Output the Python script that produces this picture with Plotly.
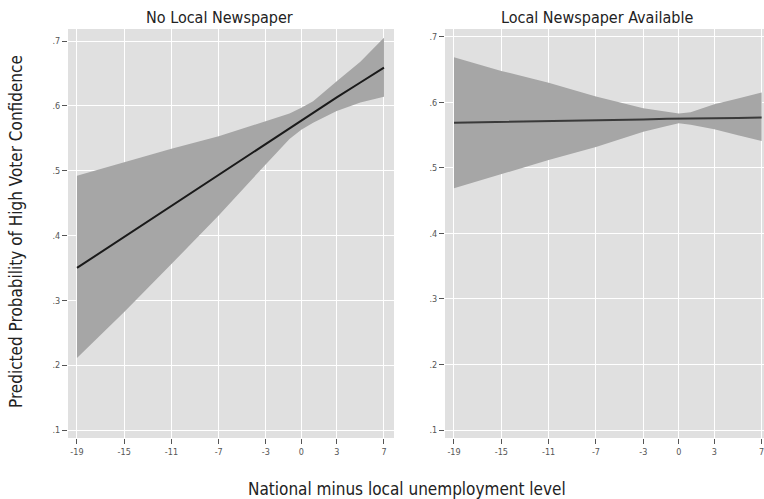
import plotly.graph_objects as go

# ---- data ----
x_vals = [-19, -15, -11, -7, -3, -1, 0, 1, 3, 5, 7]

no_paper_fit = [0.350, 0.398, 0.445, 0.493, 0.541, 0.565, 0.578, 0.590, 0.613, 0.636, 0.659]
no_paper_upper = [0.492, 0.513, 0.534, 0.553, 0.576, 0.588, 0.597, 0.607, 0.638, 0.668, 0.705]
no_paper_lower = [0.211, 0.282, 0.356, 0.431, 0.510, 0.549, 0.563, 0.574, 0.592, 0.605, 0.614]

paper_fit = [0.569, 0.570, 0.571, 0.572, 0.574, 0.575, 0.575, 0.575, 0.576, 0.576, 0.577]
paper_upper = [0.669, 0.648, 0.630, 0.609, 0.591, 0.585, 0.583, 0.585, 0.597, 0.606, 0.615]
paper_lower = [0.469, 0.491, 0.512, 0.532, 0.555, 0.564, 0.568, 0.566, 0.559, 0.550, 0.541]

x_ticks = [-19, -15, -11, -7, -3, 0, 3, 7]
x_ticktext = ["-19", "-15", "-11", "-7", "-3", "0", "3", "7"]
y_ticks = [0.1, 0.2, 0.3, 0.4, 0.5, 0.6, 0.7]
y_ticktext = [".1", ".2", ".3", ".4", ".5", ".6", ".7"]

panel_titles = ["No Local Newspaper", "Local Newspaper Available"]
x_title = "National minus local unemployment level"
y_title = "Predicted Probability of High Voter Confidence"

# ---- style ----
FONT = "DejaVu Sans Condensed, Liberation Sans Narrow, Roboto, sans-serif"
BG = "#E0E0E0"
BAND = "#A6A6A6"
W, H = 764, 499

fig = go.Figure()

def add_panel(xa, ya, fit, lo, hi, line_color):
    fig.add_trace(go.Scatter(x=x_vals, y=hi, mode="lines", line=dict(width=0, color=BAND),
                             xaxis=xa, yaxis=ya, showlegend=False, hoverinfo="skip"))
    fig.add_trace(go.Scatter(x=x_vals, y=lo, mode="lines", line=dict(width=0, color=BAND),
                             fill="tonexty", fillcolor=BAND,
                             xaxis=xa, yaxis=ya, showlegend=False, hoverinfo="skip"))
    fig.add_trace(go.Scatter(x=x_vals, y=fit, mode="lines", line=dict(width=2, color=line_color),
                             xaxis=xa, yaxis=ya, showlegend=False))

add_panel("x", "y", no_paper_fit, no_paper_lower, no_paper_upper, "#1a1a1a")
add_panel("x2", "y2", paper_fit, paper_lower, paper_upper, "#3a3a3a")

def px_x(p):
    return p / W

def px_y(p):
    return 1 - p / H

ydom = [px_y(438), px_y(29)]

common_x = dict(tickmode="array", tickvals=x_ticks, ticktext=x_ticktext, automargin=False,
                ticklabeloverflow="allow",
                showgrid=True, gridcolor="white", gridwidth=1.3, zeroline=False,
                showline=False, ticks="outside", ticklen=5, tickwidth=1, tickcolor="#555",
                tickfont=dict(family=FONT, size=9, color="#555"), fixedrange=True)
common_y = dict(tickmode="array", tickvals=y_ticks, ticktext=y_ticktext, automargin=False,
                showgrid=True, gridcolor="white", gridwidth=1.3, zeroline=False,
                showline=False, ticks="outside", ticklen=5, tickwidth=1, tickcolor="#555",
                tickfont=dict(family=FONT, size=9, color="#555"), fixedrange=True)

fig.update_layout(
    width=W, height=H,
    margin=dict(l=0, r=0, t=0, b=0),
    paper_bgcolor="white",
    plot_bgcolor=BG,
    xaxis=dict(domain=[px_x(68), px_x(394)], range=[-19.76, 7.85], anchor="y", **common_x),
    yaxis=dict(domain=ydom, range=[0.0877, 0.7185], anchor="x", **common_y),
    xaxis2=dict(domain=[px_x(445), 1.0], range=[-19.76, 7.2], anchor="y2", **common_x),
    yaxis2=dict(domain=ydom, range=[0.0878, 0.712], anchor="x2", **common_y),
    annotations=[
        dict(text=panel_titles[0], x=px_x(219), y=px_y(17), xref="paper", yref="paper",
             showarrow=False, xanchor="center", yanchor="middle",
             font=dict(family=FONT, size=16, color="#222")),
        dict(text=panel_titles[1], x=px_x(597), y=px_y(17), xref="paper", yref="paper",
             showarrow=False, xanchor="center", yanchor="middle",
             font=dict(family=FONT, size=16, color="#222")),
        dict(text=x_title, x=px_x(407), y=px_y(489), xref="paper", yref="paper",
             showarrow=False, xanchor="center", yanchor="middle",
             font=dict(family=FONT, size=17, color="#222")),
        dict(text=y_title, x=px_x(16), y=px_y(232), xref="paper", yref="paper",
             showarrow=False, xanchor="center", yanchor="middle", textangle=-90,
             font=dict(family=FONT, size=17, color="#222")),
    ],
)

fig.write_html("out.html", config={"displayModeBar": False},
               post_script="document.body.style.margin='0';document.body.style.overflow='hidden';")
